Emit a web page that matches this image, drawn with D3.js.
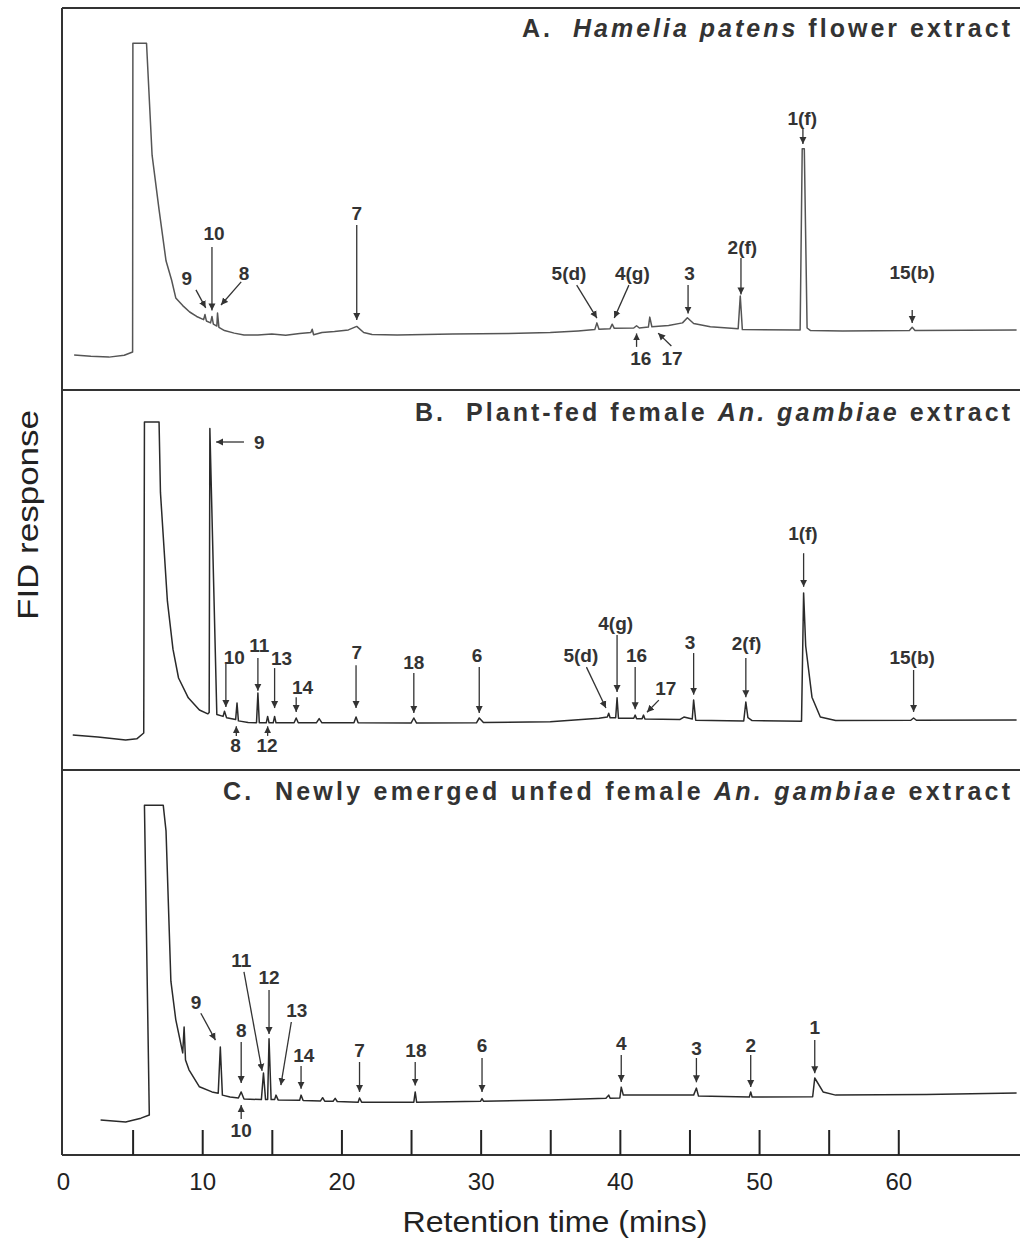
<!DOCTYPE html>
<html>
<head>
<meta charset="utf-8">
<script src="https://cdn.jsdelivr.net/npm/d3@7"></script>
<style>
  body { margin: 0; background: #fff; }
  svg { display: block; font-family: "Liberation Sans", Arial, sans-serif; }
</style>
</head>
<body>
<div id="chart"></div>
<script>
// retention time axis
const timeTicks = [5, 10, 15, 20, 25, 30, 35, 40, 45, 50, 55, 60];
const timeLabels = [0, 10, 20, 30, 40, 50, 60];

// panel titles (text, italic?)
const titleA = [["A.  ", false], ["Hamelia patens", true], [" flower extract", false]];
const titleB = [["B.  Plant-fed female ", false], ["An. gambiae", true], [" extract", false]];
const titleC = [["C.  Newly emerged unfed female ", false], ["An. gambiae", true], [" extract", false]];

// chromatogram traces: [retention time (min), FID response]
const traceA = [
  [0.8, 1.6], [2.0, 1.2], [3.3, 0.9], [4.4, 1.5], [5.0, 2.5], [5.02, 99], [6.0, 99],
  [6.4, 64], [6.9, 47], [7.4, 31], [7.8, 25], [8.1, 19.4], [8.6, 17], [9.1, 15],
  [9.6, 13.6], [10.1, 12.6], [10.2, 14.2], [10.3, 12.2], [10.6, 11.6], [10.7, 13.6],
  [10.8, 11.2], [11.05, 10.6], [11.1, 14.7], [11.2, 10.2], [11.6, 9.2], [12.3, 8.4],
  [13.0, 7.8], [14.0, 7.8], [15.0, 8.1], [16.0, 7.7], [17.0, 8.3], [17.8, 8.6],
  [17.9, 9.6], [18.0, 7.9], [18.6, 8.6], [19.5, 8.9], [20.5, 9.4], [21.1, 10.5],
  [21.6, 8.6], [22.2, 8.0], [24.0, 7.8], [28.0, 8.1], [32.0, 8.3], [35.0, 8.6],
  [37.0, 9.1], [38.2, 9.5], [38.35, 11.6], [38.5, 9.6], [39.3, 9.8], [39.45, 11.2],
  [39.6, 9.9], [41.0, 10.0], [41.2, 10.7], [41.4, 10.0], [42.05, 10.3], [42.15, 13.4],
  [42.3, 10.4], [43.5, 10.8], [44.5, 11.6], [44.85, 13.2], [45.3, 11.4], [46.5, 10.4],
  [48.5, 9.8], [48.65, 20], [48.8, 9.5], [52.95, 9.4], [53.1, 66], [53.25, 66],
  [53.45, 10], [53.7, 9.2], [56.0, 9.1], [60.8, 9.2], [61.0, 10.2], [61.2, 9.2], [68.5, 9.4]
];
const traceB = [
  [0.7, 2.2], [2.5, 1.6], [4.5, 0.6], [5.3, 1.0], [5.8, 2.8], [5.85, 100], [6.9, 100],
  [7.0, 78], [7.5, 44], [7.9, 29], [8.3, 20], [9.0, 13.8], [9.8, 10], [10.4, 8.8],
  [10.5, 9.2], [10.55, 98], [11.05, 8.6], [11.5, 8.0], [11.6, 9.6], [11.75, 7.6],
  [12.4, 7.0], [12.5, 12.2], [12.6, 6.6], [13.3, 6.1], [13.9, 6.0], [14.0, 15.3],
  [14.1, 6.0], [14.6, 6.0], [14.7, 8.0], [14.8, 6.0], [15.1, 6.0], [15.2, 8.0],
  [15.3, 6.0], [16.6, 6.0], [16.75, 7.5], [16.9, 6.0], [18.2, 6.0], [18.4, 7.3],
  [18.6, 6.0], [20.9, 6.0], [21.05, 7.8], [21.2, 6.0], [25.0, 5.9], [25.2, 7.5],
  [25.4, 5.9], [29.7, 6.0], [29.9, 7.5], [30.2, 6.1], [35.0, 6.3], [38.5, 7.4],
  [39.1, 7.8], [39.2, 9.0], [39.3, 7.6], [39.7, 7.6], [39.8, 13.8], [39.9, 7.4],
  [41.0, 7.4], [41.1, 8.4], [41.2, 7.3], [41.6, 7.3], [41.7, 8.4], [41.8, 7.2],
  [44.3, 7.0], [44.6, 7.8], [45.2, 7.2], [45.3, 13.1], [45.45, 6.8], [48.9, 6.6],
  [49.05, 12.5], [49.2, 7.6], [49.5, 6.7], [53.05, 6.5], [53.2, 46.6], [53.35, 30],
  [53.8, 14], [54.4, 7.8], [55.5, 6.7], [60.9, 6.8], [61.1, 7.5], [61.3, 6.8], [68.5, 6.9]
];
const traceC = [
  [2.7, 0.6], [4.5, 0.0], [5.6, 1.2], [6.2, 2.2], [5.85, 99], [7.2, 99], [7.4, 91],
  [7.75, 44], [8.1, 32], [8.6, 21.6], [8.7, 29.7], [8.8, 19.4], [9.05, 16.3], [9.8, 11],
  [10.7, 9.4], [11.15, 9.0], [11.3, 23.4], [11.45, 8.4], [12.0, 7.8], [12.6, 7.5],
  [12.8, 9.4], [13.0, 7.2], [14.25, 7.0], [14.4, 15.3], [14.55, 7.0], [14.7, 7.0],
  [14.8, 26], [14.95, 7.0], [15.2, 7.0], [15.3, 8.4], [15.45, 6.9], [17.0, 6.8],
  [17.1, 8.4], [17.25, 6.7], [18.5, 6.6], [18.65, 7.6], [18.8, 6.5], [19.4, 6.5],
  [19.55, 7.4], [19.7, 6.4], [21.2, 6.2], [21.3, 7.5], [21.45, 6.2], [25.2, 6.2],
  [25.3, 9.4], [25.4, 6.2], [30.0, 6.5], [30.1, 7.3], [30.2, 6.5], [35.0, 6.9],
  [39.0, 7.4], [39.2, 8.4], [39.3, 7.4], [40.0, 7.5], [40.1, 10.9], [40.25, 8.4],
  [45.3, 8.4], [45.5, 10.6], [45.65, 8.1], [49.3, 7.8], [49.4, 9.4], [49.5, 7.8],
  [53.85, 7.9], [54.0, 13.75], [54.6, 9.4], [55.5, 8.4], [62.0, 8.6], [68.5, 9.1]
];

// peak annotations: [label, label t, label v, arrow from t, from v, to t, to v]
const peaksA = [
  ["10", 10.85, 39.7, 10.7, 35.3, 10.7, 15.5],
  ["9", 8.9, 25.6, 9.55, 21.9, 10.25, 16.3],
  ["8", 13.0, 27.2, 12.8, 24.4, 11.35, 17.2],
  ["7", 21.1, 45.9, 21.1, 42.2, 21.1, 12.5],
  ["5(d)", 36.35, 27.2, 36.9, 23.4, 38.35, 13.1],
  ["4(g)", 40.9, 27.2, 40.65, 23.4, 39.6, 13.1],
  ["3", 45.0, 27.2, 44.9, 23.4, 44.9, 14.5],
  ["2(f)", 48.8, 35.3, 48.7, 31.9, 48.7, 20.5],
  ["1(f)", 53.1, 75.6, 53.15, 72.5, 53.15, 67.5],
  ["15(b)", 61.0, 27.5, 61.0, 15.6, 61.0, 11.6],
  ["16", 41.5, 0.6, 41.2, 4.1, 41.2, 8.3],
  ["17", 43.75, 0.6, 43.7, 4.4, 42.75, 8.4]
];
const peaksB = [
  ["9", 14.1, 93.75, 13.0, 93.75, 11.0, 93.75],
  ["10", 12.3, 26.6, 11.7, 24.4, 11.7, 10.9],
  ["11", 14.1, 30.3, 14.0, 26.25, 14.0, 16],
  ["13", 15.7, 26.25, 15.2, 23.1, 15.2, 10.6],
  ["14", 17.2, 17.2, 16.75, 14, 16.75, 9.4],
  ["7", 21.1, 28.1, 21.05, 24, 21.05, 10.6],
  ["8", 12.4, -0.9, 12.45, 1.9, 12.45, 4.9],
  ["12", 14.65, -0.9, 14.7, 1.9, 14.7, 4.9],
  ["18", 25.2, 25, 25.2, 21.6, 25.2, 9.1],
  ["6", 29.75, 27.2, 29.9, 23.4, 29.9, 9.1],
  ["4(g)", 39.7, 37.2, 39.8, 33.4, 39.8, 15.6],
  ["5(d)", 37.2, 27.2, 37.6, 23.4, 39.0, 10.6],
  ["16", 41.2, 27.2, 41.1, 23.4, 41.1, 10.2],
  ["17", 43.3, 16.9, 42.8, 13.1, 41.95, 9.3],
  ["3", 45.05, 31.25, 45.3, 27.8, 45.3, 14.8],
  ["2(f)", 49.1, 30.9, 49.05, 26.25, 49.05, 14],
  ["1(f)", 53.15, 65.3, 53.2, 59, 53.2, 48.5],
  ["15(b)", 61.0, 26.6, 61.1, 22.5, 61.1, 9.4]
];
const peaksC = [
  ["9", 9.55, 37.5, 9.9, 34, 10.95, 25.6],
  ["8", 12.8, 28.75, 12.8, 25, 12.8, 12.2],
  ["11", 12.8, 50.6, 13.0, 46.9, 14.3, 16],
  ["12", 14.8, 45.3, 14.8, 41.25, 14.8, 27.5],
  ["13", 16.8, 35, 16.4, 31.25, 15.65, 11.5],
  ["14", 17.3, 20.9, 17.1, 17.5, 17.1, 10.4],
  ["7", 21.3, 22.5, 21.3, 18.75, 21.3, 9.4],
  ["10", 12.8, -2.5, 12.8, 0.9, 12.8, 5.3],
  ["18", 25.35, 22.5, 25.3, 18.75, 25.3, 11.4],
  ["6", 30.1, 24, 30.1, 20, 30.1, 9.4],
  ["4", 40.1, 24.7, 40.1, 20.9, 40.1, 12.5],
  ["3", 45.5, 23.1, 45.5, 20, 45.5, 12.4],
  ["2", 49.4, 24, 49.4, 20.9, 49.4, 10.9],
  ["1", 54.0, 29.7, 54.0, 25.6, 54.0, 15.2]
];

const width = 1026, height = 1242;
const frameLeft = 62, frameRight = 1020;

const svg = d3.select('#chart').append('svg')
  .attr('width', width)
  .attr('height', height);

svg.append('defs').append('marker')
  .attr('id', 'arrowhead')
  .attr('viewBox', '0 0 10 10')
  .attr('refX', 10)
  .attr('refY', 5)
  .attr('markerUnits', 'userSpaceOnUse')
  .attr('markerWidth', 7)
  .attr('markerHeight', 8)
  .attr('orient', 'auto')
  .append('path')
  .attr('d', 'M0,0 L10,5 L0,10 z')
  .attr('fill', '#333');

const x = d3.scaleLinear().domain([0, 68.6]).range([63, 1018]);

const panels = [
  { top: 8, bottom: 390, trace: traceA, peaks: peaksA, title: titleA, titleW: 488, baseline: 37, color: '#555' },
  { top: 390, bottom: 770, trace: traceB, peaks: peaksB, title: titleB, titleW: 595, baseline: 421, color: '#2a2a2a' },
  { top: 770, bottom: 1155, trace: traceC, peaks: peaksC, title: titleC, titleW: 787, baseline: 800, color: '#2a2a2a' }
];

// frame
svg.append('line')
  .attr('x1', frameLeft).attr('x2', frameLeft)
  .attr('y1', panels[0].top).attr('y2', panels[2].bottom)
  .attr('stroke', '#333').attr('stroke-width', 2);
[panels[0].top, panels[1].top, panels[2].top, panels[2].bottom].forEach(yy => {
  svg.append('line')
    .attr('x1', frameLeft).attr('x2', frameRight)
    .attr('y1', yy).attr('y2', yy)
    .attr('stroke', '#333').attr('stroke-width', 2);
});

panels.forEach(p => {
  const y = d3.scaleLinear().domain([0, 100]).range([p.top + 352, p.top + 32]);
  const g = svg.append('g');

  // trace
  g.append('path')
    .datum(p.trace)
    .attr('d', d3.line().x(d => x(d[0])).y(d => y(d[1])))
    .attr('fill', 'none')
    .attr('stroke', p.color)
    .attr('stroke-width', 1.5)
    .attr('stroke-linejoin', 'round');

  // arrows
  g.selectAll('.arrow')
    .data(p.peaks)
    .enter()
    .append('line')
    .attr('class', 'arrow')
    .attr('x1', d => x(d[3]))
    .attr('y1', d => y(d[4]))
    .attr('x2', d => x(d[5]))
    .attr('y2', d => y(d[6]))
    .attr('stroke', '#333')
    .attr('stroke-width', 1.3)
    .attr('marker-end', 'url(#arrowhead)');

  // peak labels
  g.selectAll('.plabel')
    .data(p.peaks)
    .enter()
    .append('text')
    .attr('class', 'plabel')
    .attr('x', d => x(d[1]))
    .attr('y', d => y(d[2]))
    .attr('dy', '0.36em')
    .attr('text-anchor', 'middle')
    .attr('font-size', 19)
    .attr('font-weight', 'bold')
    .attr('fill', '#333')
    .text(d => d[0]);

  // title
  const t = g.append('text')
    .attr('x', 1010)
    .attr('y', p.baseline)
    .attr('text-anchor', 'end')
    .attr('font-size', 25)
    .attr('font-weight', 'bold')
    .attr('fill', '#333')
    .attr('textLength', p.titleW)
    .attr('lengthAdjust', 'spacing')
    .attr('xml:space', 'preserve');
  p.title.forEach(part => {
    t.append('tspan')
      .attr('font-style', part[1] ? 'italic' : 'normal')
      .text(part[0]);
  });
});

// inward ticks on the bottom axis
const tickAxis = svg.append('g')
  .attr('transform', `translate(0,${panels[2].bottom})`)
  .call(d3.axisTop(x).tickValues(timeTicks).tickSize(25).tickFormat(''));
tickAxis.select('.domain').remove();
tickAxis.selectAll('line').attr('stroke', '#222').attr('stroke-width', 2);

// tick labels
const labelAxis = svg.append('g')
  .attr('transform', `translate(0,${panels[2].bottom})`)
  .call(d3.axisBottom(x).tickValues(timeLabels).tickSize(0).tickPadding(18).tickFormat(d3.format('d')));
labelAxis.select('.domain').remove();
labelAxis.selectAll('text')
  .attr('font-size', 24)
  .attr('font-family', '"Liberation Sans", Arial, sans-serif')
  .attr('fill', '#222');

// axis titles
svg.append('text')
  .attr('x', 555)
  .attr('y', 1232)
  .attr('text-anchor', 'middle')
  .attr('font-size', 30)
  .attr('fill', '#222')
  .attr('textLength', 305)
  .attr('lengthAdjust', 'spacingAndGlyphs')
  .text('Retention time (mins)');

svg.append('text')
  .attr('transform', 'translate(38,515) rotate(-90)')
  .attr('text-anchor', 'middle')
  .attr('font-size', 30)
  .attr('fill', '#222')
  .attr('textLength', 210)
  .attr('lengthAdjust', 'spacingAndGlyphs')
  .text('FID response');
</script>
</body>
</html>
